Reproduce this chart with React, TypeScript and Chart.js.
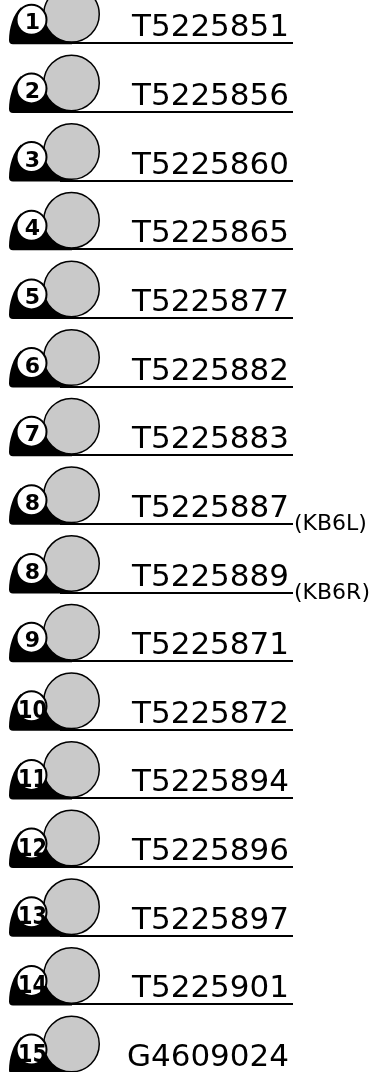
import React, { useEffect, useRef } from 'react';
import { Chart, registerables } from 'chart.js';

Chart.register(...registerables);

// ---- data ----
const calloutNumbers = ['1', '2', '3', '4', '5', '6', '7', '8', '8', '9', '10', '11', '12', '13', '14', '15'];
const partNumbers = [
  'T5225851', 'T5225856', 'T5225860', 'T5225865', 'T5225877', 'T5225882', 'T5225883',
  'T5225887', 'T5225889', 'T5225871', 'T5225872', 'T5225894', 'T5225896', 'T5225897',
  'T5225901', 'G4609024',
];
const partSuffixes = ['', '', '', '', '', '', '', '(KB6L)', '(KB6R)', '', '', '', '', '', '', ''];

// ---- layout / style ----
const W = 373;
const H = 1072;
const PITCH = 68.65;
const FIRST_CIRCLE_Y = 14.3;
const CIRCLE_X = 71.5;
const RULE_DROP = 29;
const GRAY = '#c9c9c9';
const MAIN_FONT = "31px 'DejaVu Sans', Verdana, sans-serif";
const SUB_FONT = "22px 'DejaVu Sans', Verdana, sans-serif";
const BADGE_FONT_1 = "bold 22px 'DejaVu Sans', sans-serif";
const BADGE_FONT_2 = "bold 25px 'DejaVu Sans', sans-serif";

export default function App() {
  const ref = useRef<HTMLCanvasElement>(null);

  useEffect(() => {
    const canvas = ref.current;
    if (!canvas) return;

    const rowPlugin = {
      id: 'partRows',
      beforeDatasetsDraw(chart: any) {
        const ctx = chart.ctx;
        const ys = chart.scales.y;
        const xs = chart.scales.x;
        const px = (v: number) => xs.getPixelForValue(v);
        ctx.save();
        ctx.fillStyle = '#000';
        partNumbers.forEach((_, i) => {
          const y0 = ys.getPixelForValue(i) + RULE_DROP;
          ctx.beginPath();
          ctx.moveTo(px(21), y0 - 36);
          ctx.bezierCurveTo(px(13), y0 - 29, px(9), y0 - 15, px(9), y0 - 3);
          ctx.quadraticCurveTo(px(9), y0 + 1, px(13), y0 + 1);
          ctx.lineTo(px(72), y0 + 1);
          ctx.lineTo(px(72), y0 - 29);
          ctx.lineTo(px(31.5), y0 - 23.5);
          ctx.closePath();
          ctx.fill();
          ctx.fillRect(px(60), Math.round(y0) - 1, px(293) - px(60), 2);
        });
        ctx.restore();
      },
      afterDatasetsDraw(chart: any) {
        const ctx = chart.ctx;
        const ys = chart.scales.y;
        const xs = chart.scales.x;
        const px = (v: number) => xs.getPixelForValue(v);
        ctx.save();
        partNumbers.forEach((pn, i) => {
          const y0 = ys.getPixelForValue(i) + RULE_DROP;
          // badge
          ctx.beginPath();
          ctx.arc(px(31.5), y0 - 23.5, 15, 0, Math.PI * 2);
          ctx.fillStyle = '#fff';
          ctx.fill();
          ctx.lineWidth = 2;
          ctx.strokeStyle = '#000';
          ctx.stroke();
          const num = calloutNumbers[i];
          ctx.fillStyle = '#000';
          ctx.textAlign = 'center';
          ctx.textBaseline = 'alphabetic';
          if (num.length > 1) {
            ctx.font = BADGE_FONT_2;
            const w = ctx.measureText(num).width;
            const sx = Math.min(1, 29 / w);
            ctx.save();
            ctx.translate(px(32.5), y0 - 11.5);
            ctx.scale(sx, 1);
            ctx.fillText(num, 0, 0);
            ctx.restore();
          } else {
            ctx.font = BADGE_FONT_1;
            ctx.fillText(num, px(32.5), y0 - 14);
          }
          // part number
          ctx.font = MAIN_FONT;
          ctx.textAlign = 'right';
          ctx.fillText(pn, px(289), y0 - 7);
          const sfx = partSuffixes[i];
          if (sfx) {
            ctx.font = SUB_FONT;
            ctx.textAlign = 'left';
            ctx.fillText(sfx, px(294), y0 + 6);
          }
        });
        ctx.restore();
      },
    };

    const chart = new Chart(canvas, {
      type: 'scatter',
      data: {
        datasets: [
          {
            data: partNumbers.map((_, i) => ({ x: CIRCLE_X, y: i })),
            pointRadius: 27.75,
            pointHoverRadius: 27.75,
            pointBackgroundColor: GRAY,
            pointBorderColor: '#000',
            pointBorderWidth: 1.5,
            clip: false,
          } as any,
        ],
      },
      options: {
        responsive: false,
        devicePixelRatio: 1,
        animation: false,
        events: [],
        layout: { padding: 0, autoPadding: false },
        plugins: {
          legend: { display: false },
          tooltip: { enabled: false },
          title: { display: false },
        },
        scales: {
          x: { type: 'linear', display: false, min: 0, max: W },
          y: {
            type: 'linear',
            display: false,
            reverse: true,
            min: -FIRST_CIRCLE_Y / PITCH,
            max: (H - FIRST_CIRCLE_Y) / PITCH,
          },
        },
      },
      plugins: [rowPlugin],
    });

    return () => chart.destroy();
  }, []);

  return (
    <canvas
      ref={ref}
      width={W}
      height={H}
      style={{ position: 'absolute', left: 0, top: 0, width: W, height: H, display: 'block' }}
    />
  );
}
